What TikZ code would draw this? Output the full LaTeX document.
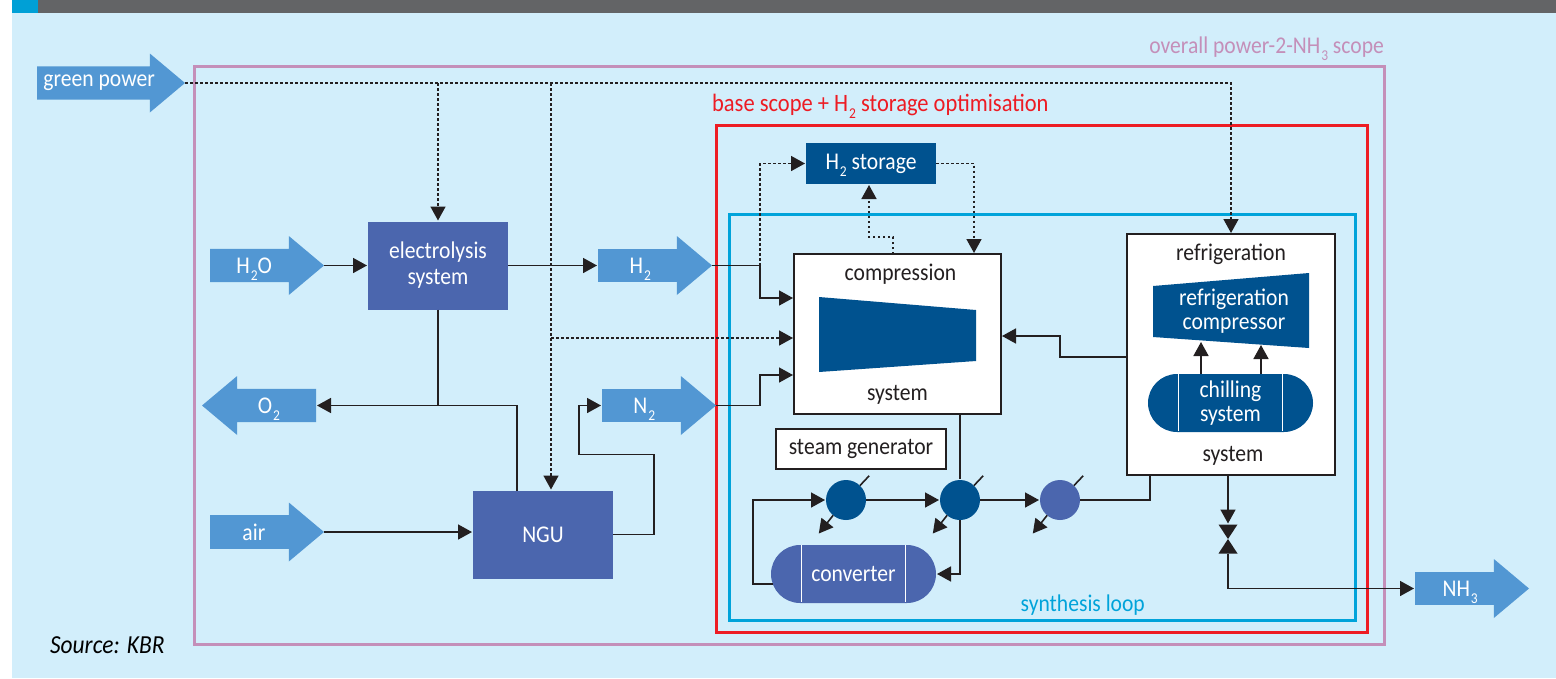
\documentclass[tikz,border=0pt]{standalone}
\usepackage{fontspec}
\setmainfont[FakeStretch=0.9]{Carlito}
\usepackage{tikz}
\usetikzlibrary{positioning,arrows.meta,shapes.arrows,shapes.misc}
\definecolor{panelbg}{HTML}{D2EEFB}
\definecolor{headgrey}{HTML}{636466}
\definecolor{headblue}{HTML}{00A0D6}
\definecolor{flowblue}{HTML}{5297D3}
\definecolor{darkblue}{HTML}{00528F}
\definecolor{midblue}{HTML}{4B66AE}
\definecolor{linegrey}{HTML}{231F20}
\definecolor{scopepink}{HTML}{C48FB9}
\definecolor{scopered}{HTML}{ED1C24}
\definecolor{scopecyan}{HTML}{00A3DA}
\newcommand{\chem}[1]{\hspace{1pt}\smash{\raisebox{-7pt}{\fontsize{15}{15}\selectfont #1}}}
\begin{document}
\begin{tikzpicture}[%
		x=1pt,
		y=-1pt,
		->,
		shorten >=1pt,
		>={Triangle[length=14pt,width=15pt]},
		line width=1.6pt,
		draw=linegrey,
		font=\fontsize{24}{24}\selectfont,
		flowarrow/.style={%
			single arrow,
			single arrow head extend=6.75pt,
			single arrow tip angle=80,
			minimum width=59pt,
			minimum height=114pt,
			inner sep=0pt,
			outer sep=0pt,
			fill=flowblue,
			text=white,
			draw=none
		},
		bluebox/.style={%
			minimum width=140pt,
			minimum height=88pt,
			fill=midblue,
			text=white,
			align=center,
			outer sep=0pt
		},
		whitebox/.style={%
			draw,
			fill=white,
			text=linegrey,
			outer sep=0pt
		},
		capsule/.style={%
			rounded rectangle,
			minimum width=165pt,
			minimum height=58pt,
			inner sep=0pt,
			outer sep=0pt,
			text=white,
			align=center,
			path picture={%
				\draw[-,white,line width=1.5pt] ([xshift=-52pt]path picture bounding box.north) -- ([xshift=-52pt]path picture bounding box.south);
				\draw[-,white,line width=1.5pt] ([xshift=52pt]path picture bounding box.north) -- ([xshift=52pt]path picture bounding box.south);
			}
		},
		cooler/.style={%
			circle,
			minimum size=40pt,
			inner sep=0pt,
			outer sep=0pt,
			fill=darkblue
		},
		powerline/.style={%
			dash pattern=on 2.5pt off 2.5pt,
			line width=1.6pt
		},
		scopeframe/.style={%
			-,
			line width=3pt
		}
		]
		\useasboundingbox (0,0) rectangle (1556,678);
		\fill[panelbg] (12,0) rectangle (1556,678);
		\fill[headgrey] (38,0) rectangle (1556,13);
		\fill[headblue] (12,0) rectangle (38,13);
		
		\draw[scopeframe,scopepink] (194,66) rectangle (1384,644);
		\draw[scopeframe,scopered] (716,125) rectangle (1367,632);
		\draw[scopeframe,scopecyan] (729,214) rectangle (1355,620);
		
		\node[scopepink,anchor=east] (overall) at (1388,47) {overall power-2-NH\chem{3} scope};
		\node[scopered,anchor=west,font=\fontsize{25}{25}\selectfont] (base) at (708,105) {base scope + H\chem{2} storage optimisation};
		\node[scopecyan,anchor=east] (loop) at (1149,605) {synthesis loop};
		\node[anchor=west,font=\fontsize{26}{26}\selectfont\itshape] (source) at (46,645) {Source: KBR};
		
		\node[flowarrow,anchor=tip,minimum height=148pt] (green) at (185,83) {\raisebox{-2pt}{green power}\hspace*{4pt}};
		\node[flowarrow,anchor=tip] (water) at (324,265.5)               {H\chem{2}O\hspace*{6pt}};
		\node[flowarrow,anchor=tip] (hydrogen) at (712,265.5)            {H\chem{2}\hspace*{10pt}};
		\node[flowarrow,anchor=tip,shape border rotate=180] (oxygen) at (202,405.5) {O\chem{2}};
		\node[flowarrow,anchor=tip] (nitrogen) at (716,405.5)            {N\chem{2}\hspace*{10pt}};
		\node[flowarrow,anchor=tip] (air) at (324,532)                   {air\hspace*{6pt}};
		\node[flowarrow,anchor=tip] (ammonia) at (1529,588.5)            {NH\chem{3}\hspace*{4pt}};
		
		\node[bluebox] (elec) at (438,265.5)                             {electrolysis\\[2pt]system};
		\node[bluebox] (ngu) [below=181pt of elec,xshift=105pt]          {NGU};
		\node[whitebox,minimum width=207pt,minimum height=160pt] (comp) at (897.5,334) {};
		\node[bluebox,fill=darkblue,minimum width=130pt,minimum height=41pt] (stor) [above=70pt of comp,xshift=-26.5pt] {H\chem{2} storage};
		\node[whitebox,minimum width=208pt,minimum height=241pt] (refr) [right=126pt of comp,yshift=-20.5pt] {};
		\node[whitebox,minimum width=170pt,minimum height=40pt] (steam) [below=15pt of comp,xshift=-36.5pt] {steam generator};
		
		\node[cooler] (c1) at (846,500)                                  {};
		\node[cooler] (c2) [right=74pt of c1]                            {};
		\node[cooler,fill=midblue] (c3) [right=60pt of c2]               {};
		\node[capsule,fill=midblue] (conv) [below=25pt of c1,xshift=7.5pt] {converter};
		\node[capsule,fill=darkblue] (chill) at (1230.5,403)             {chilling\\system};
		
		\fill[darkblue] (819,297) -- (976,310) -- (976,361) -- (819,372) -- cycle;
		\fill[darkblue] (1153,286) -- (1309,273) -- (1309,348) -- (1153,337) -- cycle;
		\node[text=white,align=center] (rcomp) at (1234,311)             {refrigeration\\compressor};
		\node[text=linegrey] (comptop) [below=6pt of comp.north,xshift=3pt] {compression};
		\node[text=linegrey] (compbot) [above=6pt of comp.south]         {system};
		\node[text=linegrey] (refrtop) [below=6pt of refr.north]         {refrigeration};
		\node[text=linegrey] (refrbot) [above=6pt of refr.south,xshift=2pt] {system};
		
		\node[minimum width=19pt,minimum height=29pt,inner sep=0pt,outer sep=0pt,
			path picture={%
				\fill[linegrey] (path picture bounding box.north west) -- (path picture bounding box.north east) -- (path picture bounding box.south west) -- (path picture bounding box.south east) -- cycle;
			}] (valve) at (1228,539) {};
		
		\coordinate (ngupower) at ([xshift=8pt]ngu.north);
		\coordinate (ngurest) at ([xshift=-26pt]ngu.north);
		\coordinate (compmid) at ([yshift=-4pt]comp.west);
		\coordinate (comphyd) at ([yshift=36pt]comp.west);
		\coordinate (compnit) at ([yshift=-41pt]comp.west);
		\coordinate (compfrom) at ([xshift=76.5pt]comp.north);
		\coordinate (compto) at ([xshift=-4.5pt]comp.north);
		\coordinate (compback) at ([yshift=-2pt]comp.east);
		\coordinate (refrout) at ([yshift=-2.5pt]refr.west);
		\coordinate (refrin) at ([xshift=-81pt]refr.south);
		\coordinate (chillleft) at (1201,374);
		\coordinate (chillright) at (1261,374);
		\coordinate (rcompleft) at (1201,341);
		\coordinate (rcompright) at (1261,344);
		
		\draw[powerline] (green.tip) -| (refr.north);
		\draw[powerline] (green.tip -| elec.north) -- (elec.north);
		\draw[powerline] (green.tip -| ngupower) -- (ngupower);
		\draw[powerline] (ngupower |- compmid) -- (compmid);
		
		\path (water.tip) edge (elec.west)
		(elec.east) edge (hydrogen.tail)
		(air.tip) edge (air.tip -| ngu.west)
		(c1.east) edge (c2.west)
		(c2.east) edge (c3.west)
		(chillleft) edge (rcompleft)
		(chillright) edge (rcompright);
		
		\draw (hydrogen.tip) -- ++(48,0) coordinate (hydsplit) |- (comphyd);
		\draw[powerline] (hydsplit) |- (stor.west);
		\draw[powerline] (stor.east) -| (compfrom);
		\draw[powerline] (compto) -- ++(0,-17) -| ([xshift=-2pt]stor.south);
		\draw (nitrogen.tip) -- ++(44,0) |- (compnit);
		\draw (refrout) -- ++(-67,0) |- (compback);
		\draw[-] (elec.south) -- (elec.south |- oxygen.tail);
		\draw (ngurest) |- (oxygen.tail);
		\draw (ngu.east) -- ++(41,0) -- ++(0,-80) -- ++(-75,0) |- (nitrogen.tail);
		\draw[-] (c2.north |- comp.south) -- (c2.north);
		\draw (c2.south) |- (conv.east);
		\draw (conv.187) -- ++(-20,0) |- (c1.west);
		\draw[-] (c3.east) -| (refrin);
		\draw (valve.north |- refr.south) -- (valve.north);
		\draw (valve.south) |- (ammonia.tail);
		
		\draw[-] (c1.46) -- ++(10,-10.6);
		\draw[-] (c2.46) -- ++(10,-10.6);
		\draw[-] (c3.46) -- ++(10,-10.6);
		\draw (c1.230) -- ++(-15,19);
		\draw (c2.230) -- ++(-15,19);
		\draw (c3.230) -- ++(-15,19);
		\end{tikzpicture}
\end{document}
